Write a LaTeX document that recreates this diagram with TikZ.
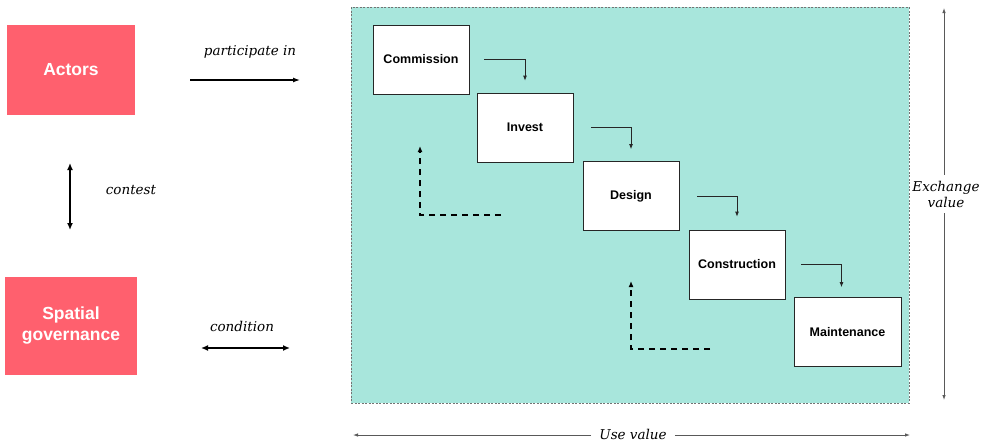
\documentclass[tikz,border=0pt]{standalone}
\usepackage{fontspec}
\setmainfont{Liberation Sans}
\newfontfamily\serifit{DejaVu Serif}
\usetikzlibrary{arrows.meta}
\definecolor{coral}{HTML}{FF606E}
\definecolor{teal}{HTML}{A8E6DC}
\tikzset{
  redbox/.style={fill=coral, text=white, font=\bfseries\fontsize{17.5}{21}\selectfont, align=center, inner sep=0pt},
  stagebox/.style={draw=black!85, line width=0.8pt, fill=white, font=\bfseries\fontsize{12.5}{14}\selectfont, minimum width=96pt, minimum height=69pt, inner sep=0pt},
  lbl/.style={font=\serifit\itshape\fontsize{13.5}{16}\selectfont, align=center},
  tip/.style={-{Latex[length=7pt,width=5pt]}},
  dbl/.style={line width=1.6pt, {Latex[length=7pt,width=6pt]}-{Latex[length=7pt,width=6pt]}},
  smallarr/.style={draw=black!85, line width=0.8pt, -{Latex[length=5pt,width=4pt]}},
  dasharr/.style={line width=1.6pt, dash pattern=on 6pt off 5pt, -{Latex[length=6pt,width=5pt]}},
  axis/.style={draw=black!65, line width=0.8pt, -{Latex[length=5pt,width=3.5pt]}}
}
\begin{document}
\begin{tikzpicture}[x=1pt,y=-1pt]
\useasboundingbox (0,0) rectangle (982,442);
% big area
\node[draw=black!55, dash pattern=on 2pt off 1.5pt, line width=0.9pt, fill=teal, minimum width=558pt, minimum height=396pt, inner sep=0pt] (area) at (630,205) {};
% red boxes
\node[redbox, minimum width=128pt, minimum height=90pt] (act) at (71,70) {Actors};
\node[redbox, minimum width=132pt, minimum height=98pt] (gov) at (71,326) {Spatial\\governance};
% labels left
\node[lbl] (pl) at (250,52) {participate in};
\node[lbl] (cl) at (131,190) {contest};
\node[lbl] (col) at (242,326) {condition};
\coordinate (pa1) at (190,80);
\coordinate (pa2) at (300,80);
\draw[line width=1.3pt, tip] (pa1) -- (pa2);
\coordinate (ca1) at (70,163);
\coordinate (ca2) at (70,230);
\draw[dbl] (ca1) -- (ca2);
\coordinate (co1) at (201,348);
\coordinate (co2) at (290,348);
\draw[dbl] (co1) -- (co2);
% stages
\node[stagebox] (comm) at (421,59.5) {Commission};
\node[stagebox] (inv) at (525,127.5) {Invest};
\node[stagebox] (des) at (631,196) {Design};
\node[stagebox] (cons) at (737,264.5) {Construction};
\node[stagebox, minimum width=107pt] (main) at (847.5,332) {Maintenance};
% small arrows
\draw[smallarr] ([xshift=15pt]comm.east) -| ([yshift=12pt]inv.north);
\draw[smallarr] ([xshift=18pt]inv.east) -| ([yshift=12pt]des.north);
\draw[smallarr] ([xshift=18pt]des.east) -| ([yshift=13pt]cons.north);
\draw[smallarr] ([xshift=16pt]cons.east) -| ([xshift=-6pt,yshift=10pt]main.north);
% dashed return arrows
\coordinate (d1s) at (501,215);
\coordinate (d1e) at (420,146);
\draw[dasharr] (d1s) -| (d1e);
\coordinate (d2s) at (710,349);
\coordinate (d2e) at (631,281);
\draw[dasharr] (d2s) -| (d2e);
% exchange value axis
\node[lbl, inner ysep=6pt] (ev) at (946,194) {Exchange\\value};
\coordinate (evt) at (944,8);
\coordinate (evb) at (944,400);
\draw[axis] (ev.north -| evt) -- (evt);
\draw[axis] (ev.south -| evb) -- (evb);
% use value axis
\node[lbl, inner xsep=8pt] (uv) at (633,434) {Use value};
\coordinate (uvl) at (353,435);
\coordinate (uvr) at (910,435);
\draw[axis] (uv.west |- uvl) -- (uvl);
\draw[axis] (uv.east |- uvr) -- (uvr);
\end{tikzpicture}
\end{document}
